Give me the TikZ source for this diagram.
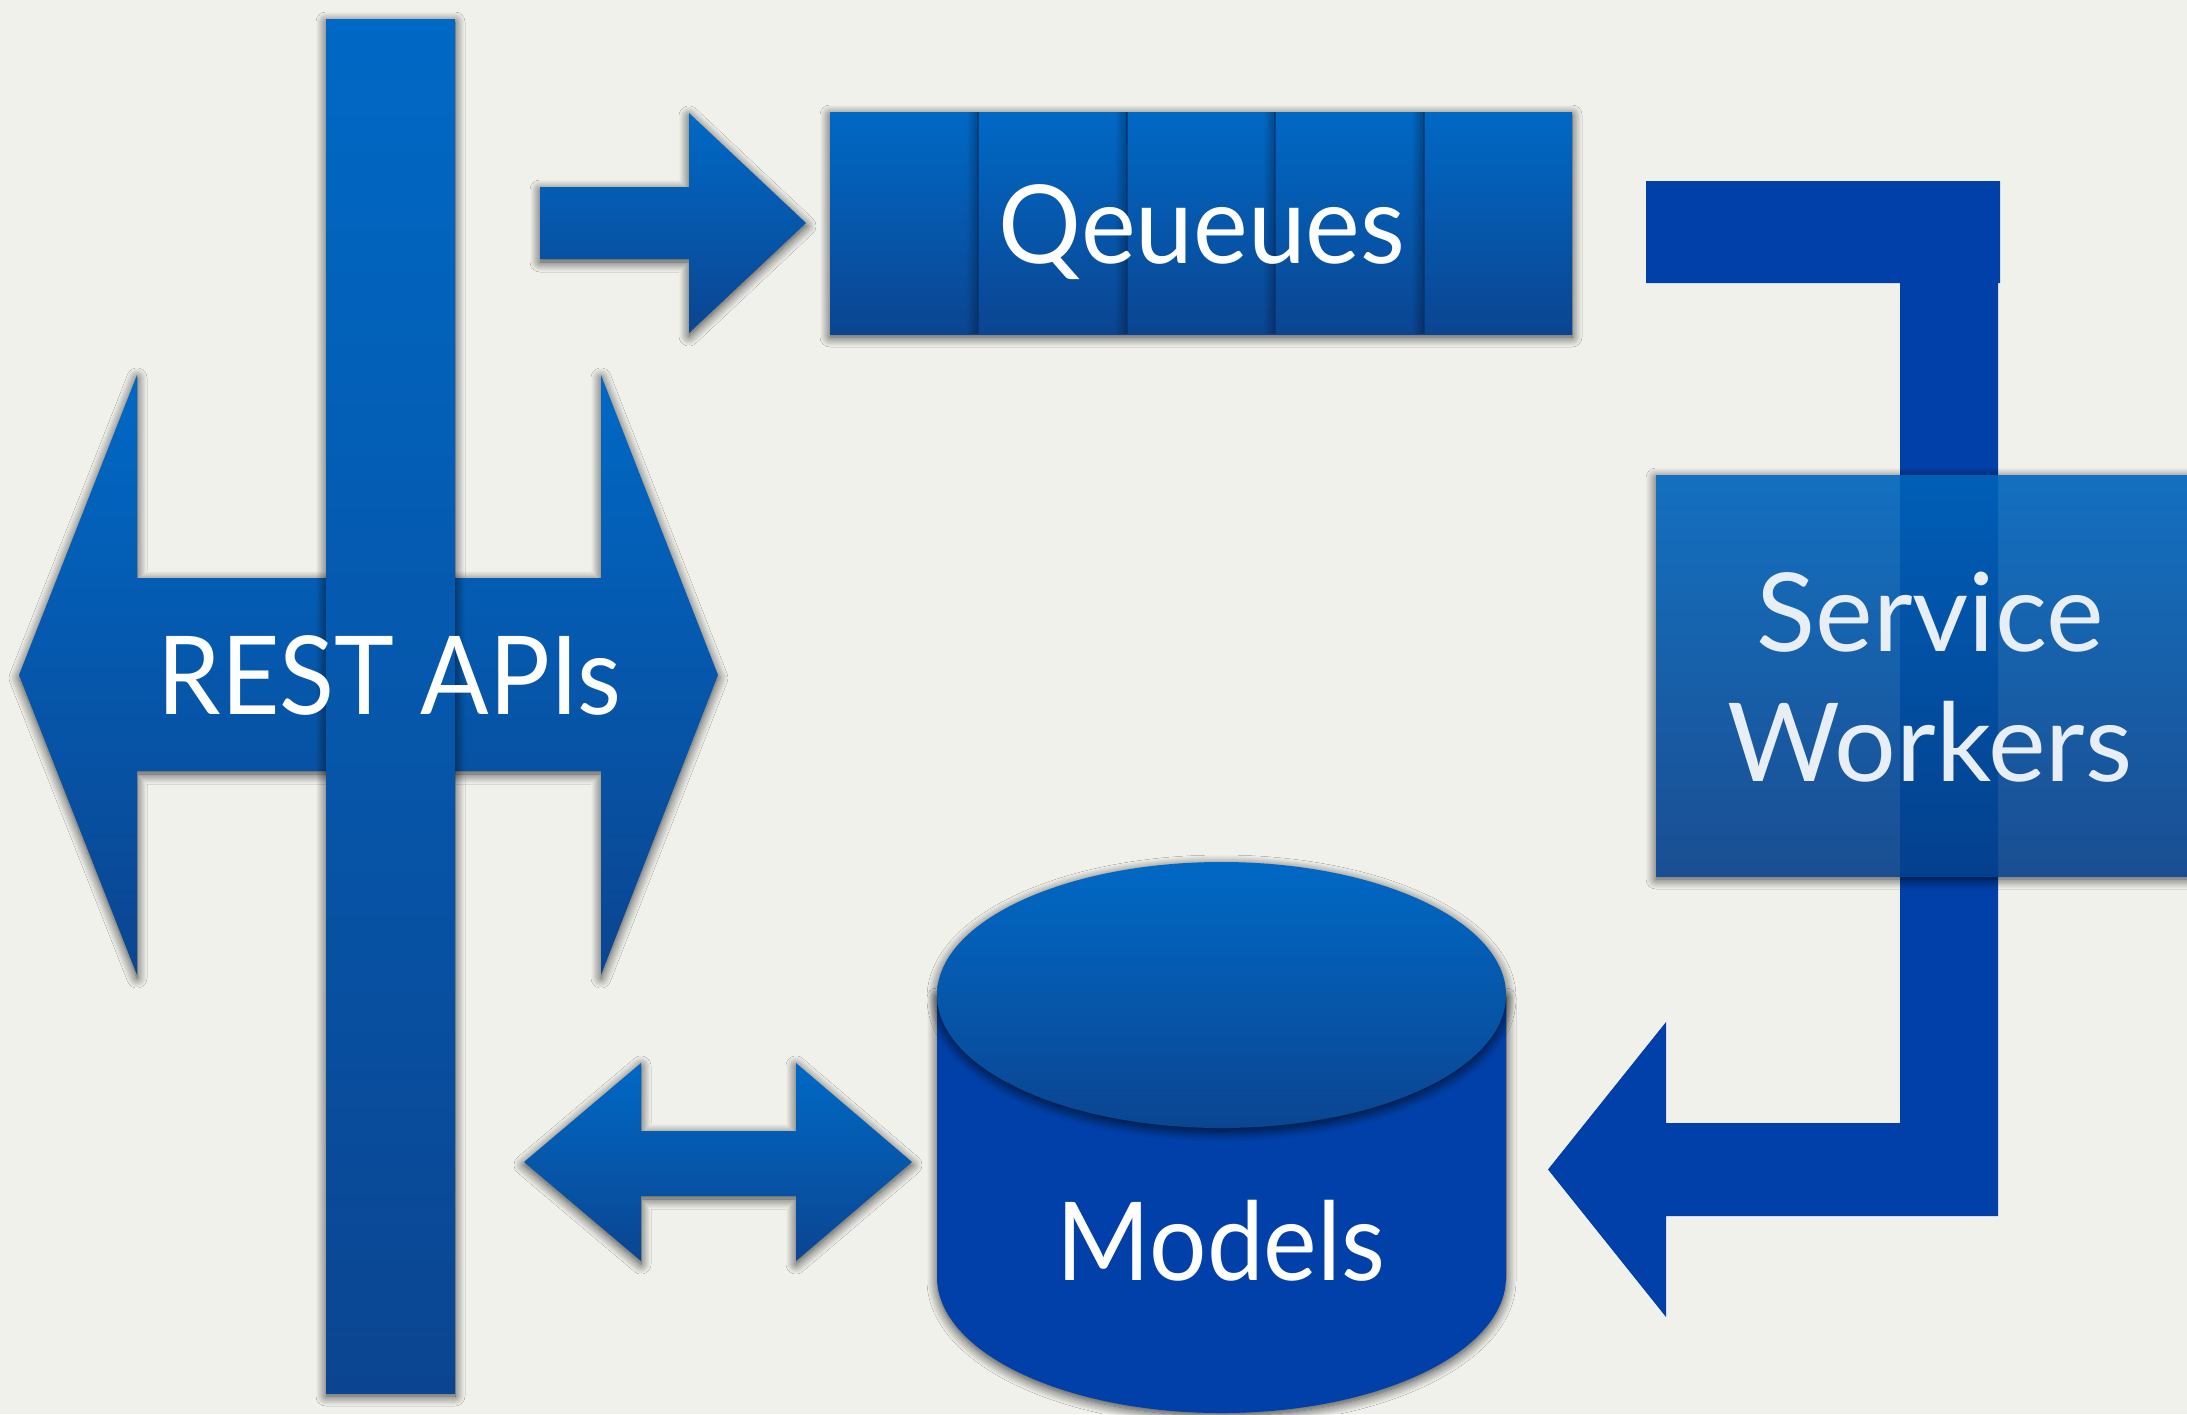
\documentclass[tikz,border=0pt]{standalone}
\usepackage{fontspec}
\setmainfont{Lato}
\usetikzlibrary{shadows.blur,fadings}
\definecolor{bg}{RGB}{241,241,236}
\definecolor{btop}{RGB}{0,105,197}
\definecolor{bbot}{RGB}{11,69,145}
\definecolor{lblue}{RGB}{0,64,168}
\definecolor{swtop}{RGB}{20,112,192}
\definecolor{swbot}{RGB}{26,78,146}
\definecolor{swbartop}{RGB}{0,94,182}
\definecolor{swbarbot}{RGB}{4,64,142}
\definecolor{divline}{RGB}{6,50,110}
\definecolor{swtext}{RGB}{232,238,246}
\begin{document}
\begin{tikzpicture}[x=1pt,y=-1pt,
  grad/.style={top color=btop,bottom color=bbot,draw=none},
  shad/.style={blur shadow={shadow xshift=0pt,shadow yshift=-3pt,shadow blur radius=10pt,shadow opacity=75,shadow blur steps=12}},
  lbl/.style={text=white,font=\fontsize{109}{130}\selectfont,anchor=base,inner sep=0pt}]
\fill[bg] (0,0) rectangle (2187,1414);
\useasboundingbox (0,0) rectangle (2187,1414);

% REST double arrow
\path[grad,shad] (19,675) -- (137,375) -- (137,578) -- (601,578) -- (601,375) -- (718,675)
  -- (601,975) -- (601,771) -- (137,771) -- (137,975) -- cycle;
% vertical bar
\path[grad,shad] (326,19) rectangle (455,1393);
\node[lbl,xscale=0.93] (rest) at (389,714) {REST APIs};

% arrow to queues
\path[grad,shad] (540,187) -- (689,187) -- (689,113) -- (806,223) -- (689,333) -- (689,259) -- (540,259) -- cycle;

% queues box
\path[grad,shad] (830,112) rectangle (1572,334);
\foreach \i in {1,2,3,4}{
  \pgfmathsetmacro{\xx}{830+148.4*\i}
  \fill[black,opacity=0.3,path fading=west] (\xx-12,112) rectangle (\xx,334);
  \draw[divline,line width=2pt,opacity=0.7] (\xx,112) -- (\xx,334);
}
\node[lbl,xscale=0.95] (queues) at (1202,263) {Qeueues};

% L connector
\fill[lblue] (1646,181) -- (2000,181) -- (2000,283) -- (1998,283) -- (1998,1216) -- (1666,1216)
  -- (1666,1317) -- (1548,1169.5) -- (1666,1022) -- (1666,1123) -- (1900,1123) -- (1900,283)
  -- (1646,283) -- cycle;

% Service Workers box
\path[top color=swtop,bottom color=swbot,shad] (1656,475) rectangle (2187,876);
\path[top color=swbartop,bottom color=swbarbot] (1900,475) rectangle (1998,876);
\node[lbl,text=swtext] (service) at (1930,651) {Service};
\node[lbl,text=swtext] (workers) at (1930,781) {Workers};

% cylinder
\path[fill=lblue,shad] (937,995) -- (937,1277) arc[start angle=180,end angle=360,x radius=284.5,y radius=-136]
  -- (1506,995) -- cycle;
\path[grad,shad] (1221.5,995) ellipse[x radius=284.5,y radius=133];
\node[lbl,xscale=0.93] (models) at (1221,1280) {Models};

% double arrow between bar and cylinder
\path[grad,shad] (524,1162) -- (641,1063) -- (641,1131) -- (796,1131) -- (796,1063) -- (912,1162)
  -- (796,1261) -- (796,1196) -- (641,1196) -- (641,1261) -- cycle;
\end{tikzpicture}
\end{document}
